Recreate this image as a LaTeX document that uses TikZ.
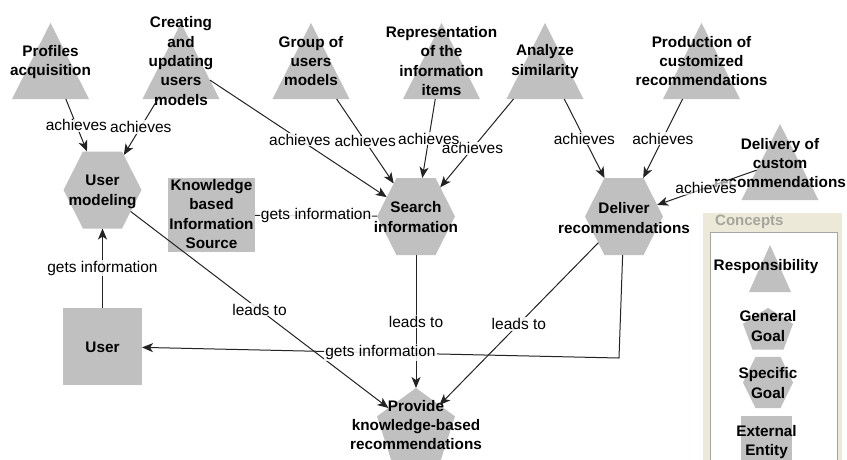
\documentclass[tikz,border=0pt]{standalone}
\usepackage{fontspec}
\setmainfont{Liberation Sans}
\usetikzlibrary{shapes.geometric,arrows.meta}
\definecolor{shapegray}{RGB}{192,192,192}
\definecolor{panelbg}{RGB}{236,233,216}
\definecolor{linecol}{RGB}{35,35,35}
\definecolor{titlegray}{RGB}{165,165,155}

\begin{document}
\begin{tikzpicture}[x=1pt,y=-1pt,
  tri/.style={inner sep=0pt, outer sep=0pt, minimum width=77pt, minimum height=76pt,
    path picture={\fill[shapegray] (path picture bounding box.north)
      -- (path picture bounding box.south east)
      -- (path picture bounding box.south west) -- cycle;}},
  hexa/.style={regular polygon, regular polygon sides=6, minimum size=78pt,
    inner sep=0pt, outer sep=0pt, fill=shapegray, draw=none, transform shape, yscale=1.14},
  penta/.style={regular polygon, regular polygon sides=5, minimum size=82pt,
    inner sep=0pt, outer sep=0pt, fill=shapegray, draw=none},
  ext/.style={rectangle, fill=shapegray, inner sep=0pt, outer sep=0pt},
  txt/.style={font=\bfseries\fontsize{15.3}{19.4}\selectfont, align=center, inner sep=0pt},
  conn/.style={draw=linecol, line width=1pt, -{Stealth[length=11pt,width=9pt,inset=3pt]}},
  plain/.style={draw=linecol, line width=1pt},
  lbl/.style={font=\fontsize{15.5}{18}\selectfont, fill=white, fill opacity=0.85,
    text opacity=1, inner sep=1pt}
]
\path[use as bounding box] (0,0) rectangle (847,459);
\clip (0,0) rectangle (847,459);
\fill[white] (0,0) rectangle (847,459);

% Responsibilities
\node[tri] (pa) at (50.5,61) {};
\node[tri] (cu) at (181,61) {};
\node[tri] (gu) at (311,61) {};
\node[tri] (ri) at (441.5,61) {};
\node[tri] (as) at (545,61) {};
\node[tri] (pc) at (701.5,61) {};
\node[tri] (dc) at (780,162) {};

% Goals and external entities
\node[hexa] (um) at (102.5,190) {};
\node[hexa] (si) at (416,216.5) {};
\node[hexa] (dr) at (624,216.5) {};
\node[penta] (pk) at (416,429) {};
\node[ext, minimum width=87pt, minimum height=74pt] (kb) at (211.5,215) {};
\node[ext, minimum width=79pt, minimum height=77pt] (us) at (102.5,346.5) {};

% Concepts panel
\fill[panelbg] (703,213) rectangle (842,465);
\node[font=\bfseries\fontsize{15}{18}\selectfont, text=titlegray, anchor=west, inner sep=0pt]
  (ctitle) at (715,222) {Concepts};
\draw[fill=white, draw=gray!70] (710,232) rectangle (837,470);
\node[tri, minimum width=42pt, minimum height=47pt] (ltri) at (770,268.5) {};
\node[regular polygon, regular polygon sides=5, minimum size=52.6pt, inner sep=0pt,
  fill=shapegray, transform shape, yscale=0.88] (lpen) at (768,331) {};
\node[hexa, minimum size=50pt, yscale=1.035] (lhex) at (768,382.5) {};
\node[ext, minimum width=51pt, minimum height=60pt] (lrect) at (766.5,446) {};

% Texts
\node[txt] (pa-t) at (50.5,62) {Profiles\\acquisition};
\node[txt] (cu-t) at (181,61) {Creating\\and\\updating\\users\\models};
\node[txt] (gu-t) at (311,61) {Group of\\users\\models};
\node[txt] (ri-t) at (441.5,61) {Representation\\of the\\information\\items};
\node[txt] (as-t) at (545,61.5) {Analyze\\similarity};
\node[txt] (pc-t) at (701.5,61) {Production of\\customized\\recommendations};
\node[txt] (dc-t) at (780,163) {Delivery of\\custom\\recommendations};
\node[txt] (um-t) at (102.5,192) {User\\modeling};
\node[txt] (si-t) at (416,217) {Search\\information};
\node[txt] (dr-t) at (624,218) {Deliver\\recommendations};
\node[txt] (pk-t) at (416,425) {Provide\\knowledge-based\\recommendations};
\node[txt] (kb-t) at (211.5,214) {Knowledge\\based\\Information\\Source};
\node[txt] (us-t) at (102.5,347) {User};
\node[txt] (ltri-t) at (766,267) {Responsibility};
\node[txt] (lpen-t) at (768,326) {General\\Goal};
\node[txt] (lhex-t) at (768,383) {Specific\\Goal};
\node[txt] (lrect-t) at (766.5,442) {External\\Entity};

% Connectors
\draw[conn] (pa) -- node[lbl, midway] {achieves} (um);
\draw[conn] (cu) -- node[lbl, midway] {achieves} (um);
\draw[conn, shorten <=-11.4pt] (cu) -- node[lbl, pos=0.48] {achieves} (si);
\draw[conn] (gu) -- node[lbl, midway] {achieves} (si);
\draw[conn] (as) -- node[lbl, pos=0.56] {achieves} (si);
\draw[conn] (ri) -- node[lbl, midway] {achieves} (si);
\draw[conn] (as) -- node[lbl, midway] {achieves} (dr);
\draw[conn] (pc) -- node[lbl, midway] {achieves} (dr);
\draw[conn, shorten <=-16pt] (dc) -- node[lbl, pos=0.42, fill opacity=0.6] {achieves} (dr);
\draw[plain] (kb) -- node[lbl, midway] {gets information} (si);
\draw[conn] (us) -- node[lbl, midway] {gets information} (um);
\draw[conn] (um) -- node[lbl, midway] {leads to} (pk);
\draw[conn] (si) -- node[lbl, midway] {leads to} (pk);
\draw[conn] (dr) -- node[lbl, midway] {leads to} (pk);
\coordinate (bend) at (619,358);
\draw[conn] (dr) -- (bend) -- node[lbl, midway] {gets information} (us);
\end{tikzpicture}
\end{document}
